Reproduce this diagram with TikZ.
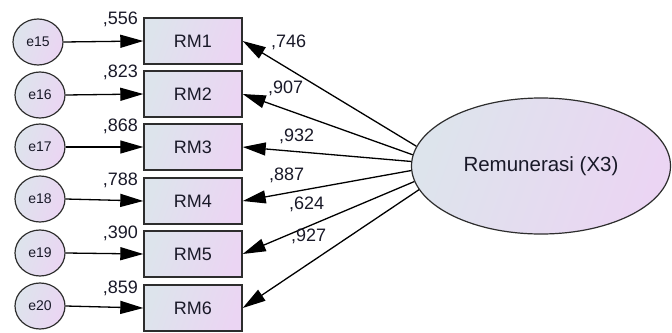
\documentclass[tikz,border=0pt]{standalone}
\usepackage{fontspec}
\setmainfont{Liberation Sans}
\usetikzlibrary{shapes.geometric,arrows.meta}

\definecolor{shadeL}{RGB}{221,228,236}
\definecolor{shadeR}{RGB}{235,213,243}
\definecolor{edgegray}{RGB}{45,45,45}
\definecolor{inkc}{RGB}{25,25,40}

\tikzset{
  fillgrad/.style={left color=shadeL, right color=shadeR, shading angle=70},
  errnode/.style={ellipse, draw=edgegray, line width=1.2pt, fillgrad,
    minimum width=50pt, minimum height=46pt, inner sep=0pt,
    font=\fontsize{14}{15}\selectfont, text=inkc},
  itembox/.style={rectangle, draw=edgegray, line width=1.4pt, fillgrad,
    minimum width=98pt, minimum height=46pt, inner sep=0pt,
    font=\fontsize{18}{20}\selectfont, text=inkc},
  latentnode/.style={ellipse, draw=edgegray, line width=1.2pt, fillgrad,
    minimum width=259pt, minimum height=136pt, inner sep=0pt,
    font=\fontsize{20.5}{22}\selectfont, text=inkc},
  arr/.style={draw=black, line width=1.3pt,
    -{Triangle[length=23pt, width=13pt]}},
  est/.style={inner sep=0pt, font=\fontsize{18}{20}\selectfont, text=inkc},
}

\begin{document}
\begin{tikzpicture}[x=1pt, y=-1pt]
  \useasboundingbox (0,0) rectangle (672,332);

  % latent construct
  \node[latentnode] (X) at (541,166) {Remunerasi (X3)};

  % observed indicators
  \node[itembox] (RM1) at (193,41)  {RM1};
  \node[itembox] (RM2) at (193,94)  {RM2};
  \node[itembox] (RM3) at (193,147) {RM3};
  \node[itembox] (RM4) at (193,201) {RM4};
  \node[itembox] (RM5) at (193,254) {RM5};
  \node[itembox] (RM6) at (193,308) {RM6};

  % error terms
  \node[errnode] (e15) at (38,42)  {e15};
  \node[errnode] (e16) at (40,95)  {e16};
  \node[errnode] (e17) at (40,147) {e17};
  \node[errnode] (e18) at (40,199) {e18};
  \node[errnode] (e19) at (40,253) {e19};
  \node[errnode] (e20) at (40,306) {e20};

  % error paths
  \draw[arr] (e15.east) -- (RM1.west);
  \draw[arr] (e16.east) -- (RM2.west);
  \draw[arr] (e17.east) -- (RM3.west);
  \draw[arr] (e18.east) -- (RM4.west);
  \draw[arr] (e19.east) -- (RM5.west);
  \draw[arr] (e20.east) -- (RM6.west);

  % factor loadings
  \draw[arr] (X.171) -- (RM1.east);
  \draw[arr] (X.175) -- (RM2.east);
  \draw[arr] (X.178.5) -- (RM3.east);
  \draw[arr] (X.182.5) -- (RM4.east);
  \draw[arr] (X.187) -- (RM5.east);
  \draw[arr] (X.191) -- (RM6.east);

  % squared multiple correlations
  \node[est, anchor=base east] (r1) at (138,24)  {,556};
  \node[est, anchor=base east] (r2) at (138,77)  {,823};
  \node[est, anchor=base east] (r3) at (138,131) {,868};
  \node[est, anchor=base east] (r4) at (138,185) {,788};
  \node[est, anchor=base east] (r5) at (138,238) {,390};
  \node[est, anchor=base east] (r6) at (138,293) {,859};

  % standardized loadings
  \node[est, anchor=base west] (l1) at (271,47)  {,746};
  \node[est, anchor=base west] (l2) at (268,93)  {,907};
  \node[est, anchor=base west] (l3) at (279,141) {,932};
  \node[est, anchor=base west] (l4) at (269,180) {,887};
  \node[est, anchor=base west] (l5) at (289,209) {,624};
  \node[est, anchor=base west] (l6) at (291,241) {,927};
\end{tikzpicture}
\end{document}
